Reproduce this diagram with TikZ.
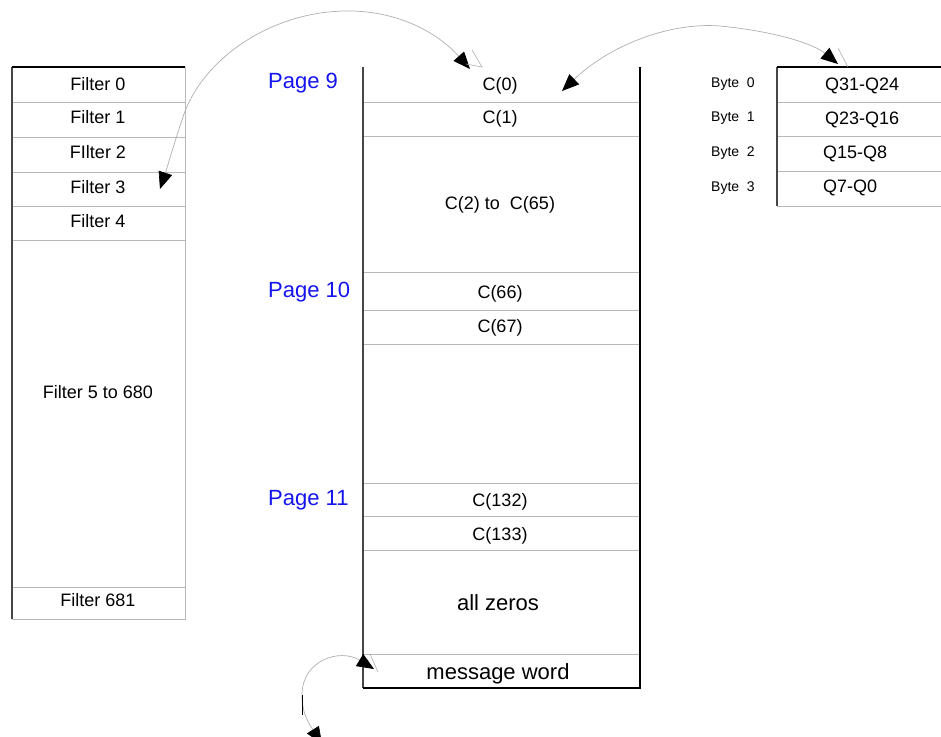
\documentclass[tikz,border=0pt]{standalone}
\usepackage{fontspec}
\setmainfont{Liberation Sans}
\usetikzlibrary{arrows.meta}
\definecolor{pageblue}{RGB}{20,20,240}
\definecolor{divgray}{RGB}{185,185,185}
\definecolor{linkgray}{RGB}{175,175,175}
\definecolor{edgedark}{RGB}{70,70,70}
\begin{document}
\begin{tikzpicture}[x=1pt,y=-1pt,
  cell/.style={font=\fontsize{18}{20}\selectfont, inner sep=0pt, anchor=base},
  bigcell/.style={font=\fontsize{22}{24}\selectfont, inner sep=0pt, anchor=base},
  pagelbl/.style={font=\fontsize{22}{24}\selectfont, text=pageblue, inner sep=0pt, anchor=base west},
  bytelbl/.style={font=\fontsize{14}{16}\selectfont, inner sep=0pt, anchor=base west},
  qlbl/.style={font=\fontsize{18}{20}\selectfont, inner sep=0pt, anchor=base west},
  divider/.style={draw=divgray, line width=1pt},
  darkedge/.style={draw=edgedark, line width=1.4pt},
  blackedge/.style={draw=black, line width=1.4pt},
  link/.style={draw=linkgray, line width=0.7pt,
    {Triangle[length=17pt,width=14pt,color=black]}-{Triangle[length=17pt,width=14pt,color=black]}}
]
\useasboundingbox (0,0) rectangle (941,736);

% ---------- filter table ----------
\foreach \y in {102,137,172,206,240,587} \draw[divider] (12,\y) -- (185,\y);
\draw[divider] (185,67) -- (185,619) -- (12,619);
\draw[darkedge] (12,619) -- (12,67);
\draw[blackedge] (12,67) -- (185,67);
\node[cell] (f0) at (98,90) {Filter 0};
\node[cell] (f1) at (98,123) {Filter 1};
\node[cell] (f2) at (98,158) {FIlter 2};
\node[cell] (f3) at (98,193) {Filter 3};
\node[cell] (f4) at (98,227) {Filter 4};
\node[cell] (f5) at (98,398) {Filter 5 to 680};
\node[cell] (f681) at (98,606) {Filter 681};

% ---------- coefficient table ----------
\foreach \y in {102,136,272,310,344,483,516,550,654} \draw[divider] (363,\y) -- (640,\y);
\draw[darkedge] (363,67) -- (363,688);
\draw[blackedge] (363,688) -- (640,688) -- (640,67);
\node[pagelbl] (p9) at (268,88) {Page 9};
\node[pagelbl] (p10) at (268,297) {Page 10};
\node[pagelbl] (p11) at (268,505) {Page 11};
\node[cell] (c0) at (500,90) {C(0)};
\node[cell] (c1) at (500,123) {C(1)};
\node[cell] (c2) at (500,209) {C(2) to\ \ C(65)};
\node[cell] (c66) at (500,298) {C(66)};
\node[cell] (c67) at (500,332) {C(67)};
\node[cell] (c132) at (500,506) {C(132)};
\node[cell] (c133) at (500,540) {C(133)};
\node[bigcell] (zeros) at (498,610) {all zeros};
\node[bigcell] (msg) at (498,679) {message word};

% ---------- byte table ----------
\foreach \y in {102,136,171,206} \draw[divider] (777,\y) -- (941,\y);
\draw[darkedge] (777,67) -- (777,206);
\draw[blackedge] (777,67) -- (941,67);
\node[bytelbl] (b0) at (711,87) {Byte\ \ 0};
\node[bytelbl] (b1) at (711,121) {Byte\ \ 1};
\node[bytelbl] (b2) at (711,156) {Byte\ \ 2};
\node[bytelbl] (b3) at (711,191) {Byte\ \ 3};
\node[qlbl] (q0) at (825,90) {Q31-Q24};
\node[qlbl] (q1) at (825,124) {Q23-Q16};
\node[qlbl] (q2) at (823,158) {Q15-Q8};
\node[qlbl] (q3) at (823,192) {Q7-Q0};

% ---------- connector end points ----------
\coordinate (c0in) at (470,69);
\coordinate (f3in) at (160,189);
\coordinate (c0r) at (562,91);
\coordinate (q0in) at (838,64);
\coordinate (msgin) at (374,669);
\coordinate (below) at (322,744);

% ---------- connectors ----------
\draw[link] (c0in) .. controls (440,35) and (400,10) .. (345,11)
  .. controls (270,12) and (200,60) .. (182,120)
  .. controls (172,150) and (168,165) .. (f3in);
\draw[link] (c0r) .. controls (610,45) and (670,22) .. (720,26)
  .. controls (780,32) and (815,45) .. (q0in);
\draw[link] (msgin) .. controls (340,648) and (302,660) .. (302,695)
  .. controls (302,715) and (310,725) .. (below);
\draw[draw=black, line width=0.8pt] (302,695) -- (302,715);
% small open heads left beside the filled ones
\draw[linkgray, line width=0.6pt] (472,50) -- (482,67) -- (466,64);
\draw[linkgray, line width=0.6pt] (838,48) -- (848,67);
\draw[linkgray, line width=0.6pt] (370,654) -- (378,672);
\end{tikzpicture}
\end{document}
